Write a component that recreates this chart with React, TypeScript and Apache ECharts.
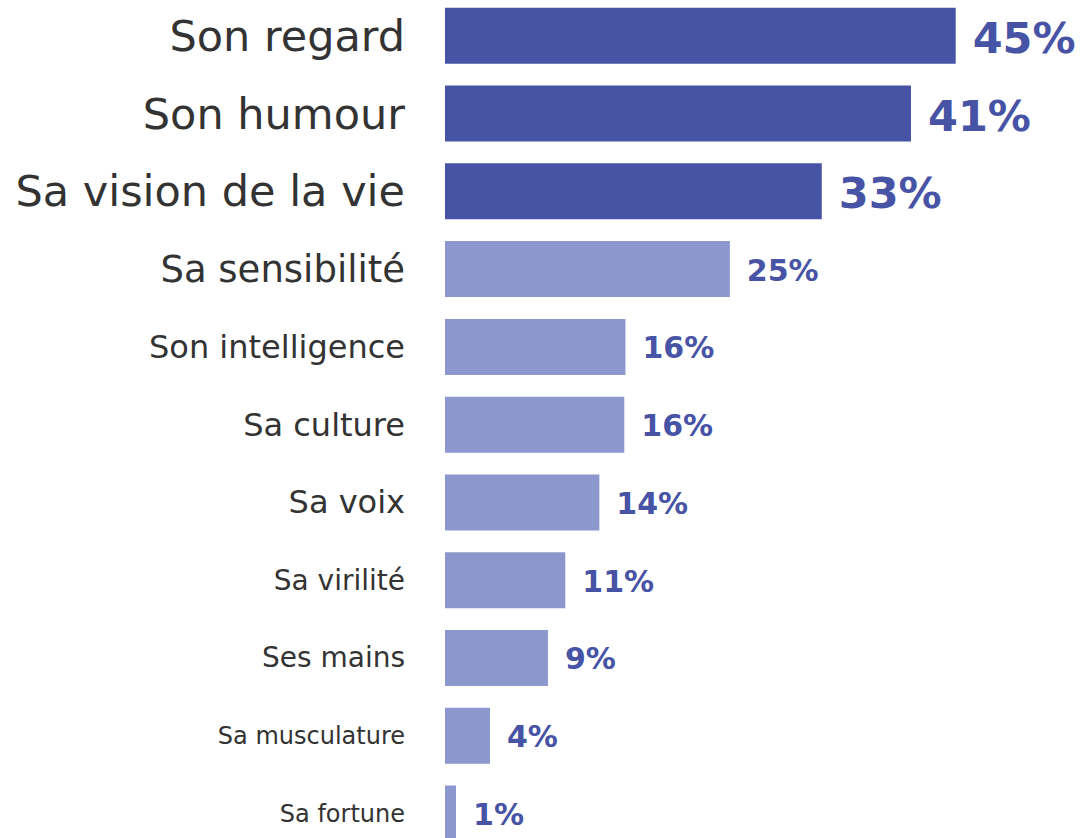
import React, { useEffect, useRef } from "react";
import * as echarts from "echarts";

// Data
const categories = [
  "Son regard",
  "Son humour",
  "Sa vision de la vie",
  "Sa sensibilité",
  "Son intelligence",
  "Sa culture",
  "Sa voix",
  "Sa virilité",
  "Ses mains",
  "Sa musculature",
  "Sa fortune",
];
const values = [45, 41.06, 33.2, 25.1, 15.9, 15.8, 13.6, 10.6, 9.07, 3.96, 0.97];
const shownPercents = [45, 41, 33, 25, 16, 16, 14, 11, 9, 4, 1];

// Styles (kept apart from the data)
const catFontSizes = [43, 43, 43, 37, 32, 32, 32, 28, 28, 24, 24];
const valFontSizes = [43, 43, 43, 30, 30, 30, 30, 30, 30, 30, 30];
const highlightCount = 3;
const DARK = "#4754a5";
const LIGHT = "#8b97cd";
const LABEL_BLUE = "#4753a5";
const TEXT = "#333333";
const FONT = "DejaVu Sans";

export default function App() {
  const ref = useRef<HTMLDivElement>(null);

  useEffect(() => {
    if (!ref.current) return;
    const chart = echarts.init(ref.current, null, { renderer: "svg" });
    chart.setOption({
      animation: false,
      backgroundColor: "#ffffff",
      grid: { left: 445, right: 129.3, top: 6.9, height: 855.5 },
      xAxis: {
        type: "value",
        min: 0,
        max: 45,
        show: false,
      },
      yAxis: {
        type: "category",
        inverse: true,
        data: categories.map((c, i) => ({
          value: c,
          textStyle: { fontSize: catFontSizes[i] },
        })),
        axisLine: { show: false },
        axisTick: { show: false },
        splitLine: { show: false },
        axisLabel: {
          margin: 40,
          color: TEXT,
          fontFamily: FONT,
          align: "right",
        },
      },
      series: [
        {
          type: "bar",
          barWidth: 56,
          data: values.map((v, i) => ({
            value: v,
            itemStyle: { color: i < highlightCount ? DARK : LIGHT },
            label: {
              fontSize: valFontSizes[i],
              offset: [0, i < highlightCount ? 2 : 1],
            },
          })),
          label: {
            show: true,
            position: "right",
            distance: 17,
            color: LABEL_BLUE,
            fontFamily: FONT,
            fontWeight: "bold",
            formatter: (p: any) => `${shownPercents[p.dataIndex]}%`,
          },
        },
      ],
    });
    return () => chart.dispose();
  }, []);

  return (
    <div
      style={{
        position: "fixed",
        left: 0,
        top: 0,
        width: 1085,
        height: 838,
        overflow: "hidden",
        background: "#fff",
      }}
    >
      <div
        ref={ref}
        style={{ position: "absolute", left: 0, top: -10, width: 1085, height: 870 }}
      />
    </div>
  );
}
